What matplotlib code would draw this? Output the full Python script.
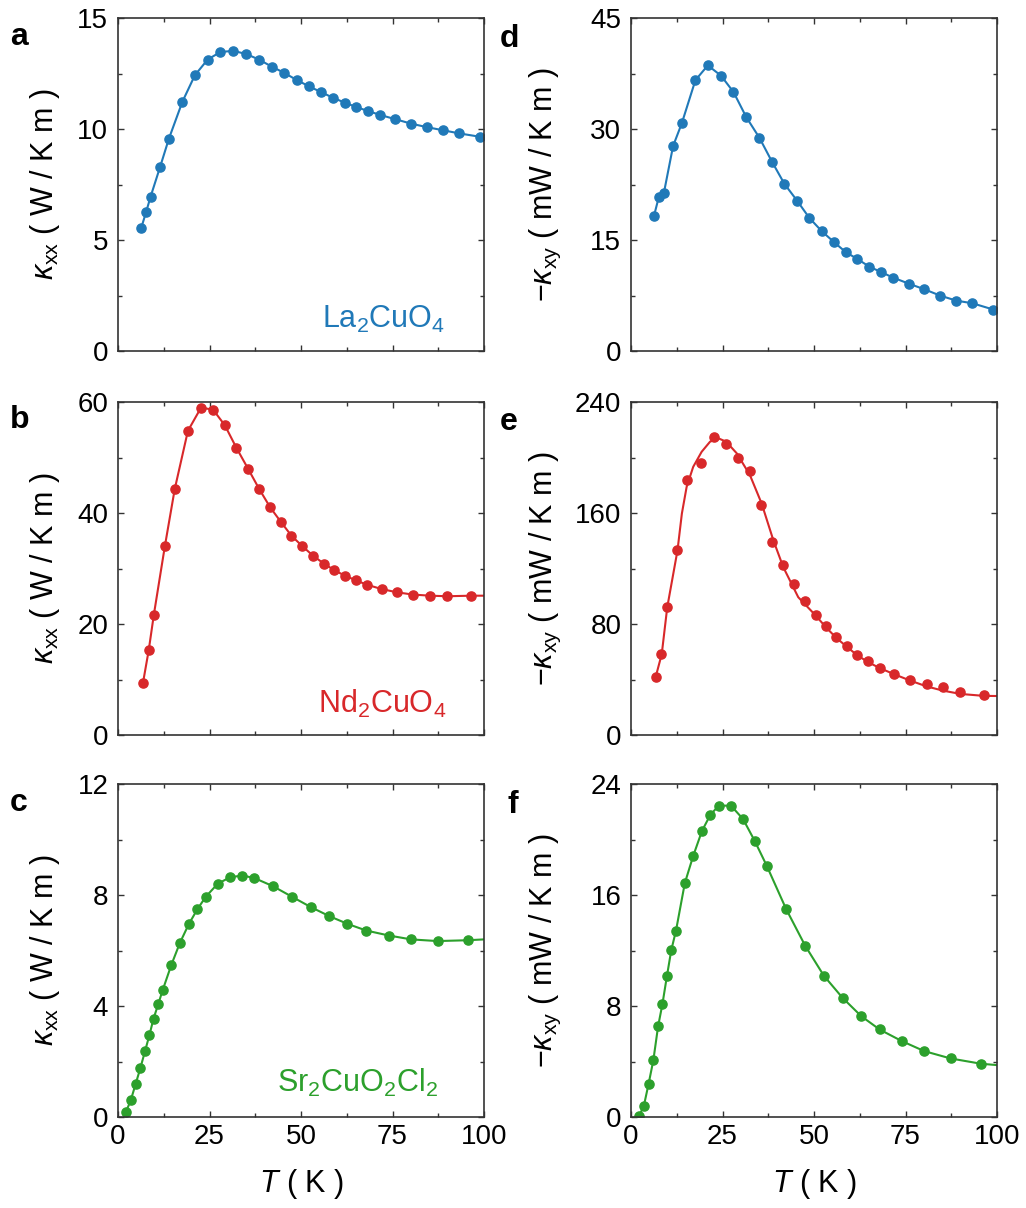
import numpy as np
import matplotlib
matplotlib.use("Agg")
import matplotlib.pyplot as plt
from matplotlib.ticker import MultipleLocator

plt.rcParams['font.family'] = ['Liberation Sans', 'DejaVu Sans']
plt.rcParams['mathtext.fontset'] = 'custom'
plt.rcParams['mathtext.rm'] = 'Liberation Sans'
plt.rcParams['mathtext.it'] = 'Liberation Sans:italic'
plt.rcParams['mathtext.bf'] = 'Liberation Sans:bold'

BLUE = '#2079b8'
RED = '#d8282a'
GREEN = '#2ca02c'

# ---- La2CuO4 ----
la_T = [6.3, 7.7, 8.9, 11.5, 13.9, 17.6, 21.0, 24.5, 28.0, 31.5, 35.0, 38.5, 42.0,
        45.4, 48.8, 52.2, 55.4, 58.7, 61.9, 65.1, 68.3, 71.7, 75.8, 80.1, 84.5,
        88.9, 93.3, 98.9]
la_kxx = [5.52, 6.27, 6.95, 8.29, 9.56, 11.23, 12.42, 13.13, 13.47, 13.52, 13.38,
          13.13, 12.81, 12.53, 12.21, 11.92, 11.67, 11.41, 11.19, 10.99, 10.81,
          10.63, 10.44, 10.24, 10.08, 9.94, 9.80, 9.65]
la_kxy_T = [6.3, 7.6, 9.0, 11.5, 13.9, 17.6, 21.0, 24.6, 28.0, 31.5, 35.1, 38.5,
            41.9, 45.4, 48.7, 52.1, 55.5, 58.7, 61.8, 65.1, 68.4, 71.7, 75.9,
            80.1, 84.4, 88.9, 93.3, 99.0]
la_kxy = [18.3, 20.8, 21.4, 27.7, 30.8, 36.6, 38.6, 37.2, 35.0, 31.6, 28.8, 25.6,
          22.6, 20.3, 18.0, 16.2, 14.7, 13.35, 12.45, 11.4, 10.65, 9.9, 9.1,
          8.35, 7.5, 6.8, 6.45, 5.6]

# ---- Nd2CuO4 ----
nd_T = [6.8, 8.4, 9.8, 12.8, 15.5, 19.1, 22.7, 26.0, 29.2, 32.3, 35.6, 38.6, 41.6,
        44.5, 47.4, 50.4, 53.3, 56.2, 59.1, 62.0, 64.9, 67.9, 72.0, 76.3, 80.6,
        85.3, 90.0, 96.4]
nd_kxx = [9.3, 15.3, 21.7, 34.0, 44.3, 54.8, 59.0, 58.6, 55.8, 51.8, 47.9, 44.3,
          41.0, 38.4, 35.9, 34.0, 32.3, 30.9, 29.7, 28.7, 27.9, 27.1, 26.3, 25.7,
          25.3, 25.1, 25.0, 25.1]
nd_kxx_end = 25.1
nd_kxy_T = [6.8, 8.3, 9.8, 12.7, 15.4, 19.0, 22.7, 26.0, 29.2, 32.5, 35.6, 38.6,
            41.5, 44.5, 47.5, 50.5, 53.3, 56.1, 59.0, 61.8, 64.8, 67.9, 71.9,
            76.3, 80.8, 85.2, 90.0, 96.4]
nd_kxy = [41.6, 58.4, 92.1, 133.0, 183.5, 196.0, 214.5, 209.5, 199.6, 190.2, 165.7,
          139.0, 122.2, 108.7, 96.7, 86.8, 78.2, 70.9, 64.2, 58.0, 53.1, 48.6,
          44.0, 39.7, 36.6, 34.6, 31.3, 28.9]
# smooth fit through the Nd2CuO4 Hall data
nd_fit_T = [6.7, 8.4, 9.9, 12.7, 13.9, 15.2, 17.0, 19.3, 21.6, 23.9, 26.0, 28.9,
            32.5, 35.7, 38.9, 41.6, 45.7, 50.5, 53.3, 56.1, 59.0, 61.8, 64.8,
            67.9, 71.9, 76.3, 80.8, 85.2, 90.0, 96.4, 100.0]
nd_fit = [41.4, 58.3, 92.0, 133.0, 159.6, 178.8, 193.3, 204.1, 211.4, 213.8, 211.4,
          203.0, 187.3, 166.8, 140.3, 121.0, 99.3, 86.0, 77.5, 70.0, 63.5, 57.5,
          52.5, 48.3, 43.8, 39.2, 35.0, 32.0, 29.6, 28.2, 28.1]

# ---- Sr2CuO2Cl2 ----
sr_T = [2.2, 3.5, 4.8, 6.1, 7.4, 8.6, 9.7, 11.0, 12.2, 14.6, 16.9, 19.3, 21.7,
        24.0, 27.2, 30.6, 33.9, 37.1, 42.3, 47.5, 52.6, 57.7, 62.7, 67.8, 74.0,
        80.1, 87.3, 95.6]
sr_kxx = [0.19, 0.61, 1.18, 1.76, 2.38, 2.96, 3.54, 4.07, 4.57, 5.49, 6.27, 6.94,
          7.49, 7.94, 8.40, 8.64, 8.70, 8.62, 8.32, 7.94, 7.57, 7.24, 6.96, 6.72,
          6.54, 6.40, 6.34, 6.37]
sr_kxx_end = 6.40
sr_kxy_T = [2.2, 3.5, 4.8, 6.1, 7.4, 8.6, 9.8, 11.0, 12.3, 14.7, 17.0, 19.4, 21.7,
            24.0, 27.3, 30.6, 33.8, 37.1, 42.4, 47.6, 52.7, 57.8, 62.9, 67.9,
            74.0, 80.1, 87.3, 95.6]
sr_kxy = [0.07, 0.79, 2.38, 4.08, 6.53, 8.16, 10.13, 12.02, 13.44, 16.85, 18.82,
          20.62, 21.79, 22.44, 22.44, 21.48, 19.90, 18.10, 14.98, 12.34, 10.18,
          8.59, 7.27, 6.31, 5.47, 4.75, 4.22, 3.84]
sr_kxy_end = 3.74

T_TICKS = [0, 25, 50, 75, 100]

W, H = 1026, 1208
fig = plt.figure(figsize=(W / 100, H / 100), dpi=100)

left_x = [118, 631]
rows_top = [18, 402, 784]
ax_w, ax_h = 366, 333

TICK_FS = 20
LABEL_FS = 22


def make_ax(col, row):
    x0 = left_x[col] / W
    y0 = 1 - (rows_top[row] + ax_h) / H
    return fig.add_axes([x0, y0, ax_w / W, ax_h / H])


def style(ax, ymax, ystep, show_x):
    ax.set_xlim(0, 100)
    ax.set_ylim(0, ymax)
    ax.xaxis.set_major_locator(MultipleLocator(25))
    ax.xaxis.set_minor_locator(MultipleLocator(12.5))
    ax.yaxis.set_major_locator(MultipleLocator(ystep))
    ax.yaxis.set_minor_locator(MultipleLocator(ystep / 2))
    ax.tick_params(which='both', direction='in', top=True, right=True,
                   color='#333333', width=1.0)
    ax.tick_params(which='major', length=4.5, labelsize=TICK_FS)
    ax.tick_params(which='minor', length=3.0)
    ax.tick_params(axis='y', pad=7)
    ax.tick_params(axis='x', pad=5)
    for s in ax.spines.values():
        s.set_color('#333333')
        s.set_linewidth(1.2)
    if show_x:
        ax.set_xticks(T_TICKS)
        ax.set_xlabel(r'$T$ ( K )', fontsize=LABEL_FS)
        ax.xaxis.set_label_coords(0.5, -0.15)
    else:
        ax.tick_params(axis='x', labelbottom=False)


MS = 6.6
LW = 1.5

kxx_label = r'$\kappa_{\mathrm{xx}}$ ( W / K m )'
kxy_label = r'$-\kappa_{\mathrm{xy}}$ ( mW / K m )'
KXX_LX = -0.152
KXY_LX = -0.187

# a
ax = make_ax(0, 0)
ax.plot(la_T, la_kxx, '-', color=BLUE, lw=LW)
ax.plot(la_T, la_kxx, 'o', color=BLUE, ms=MS)
style(ax, 15, 5, False)
ax.set_ylabel(kxx_label, fontsize=LABEL_FS)
ax.yaxis.set_label_coords(KXX_LX, 0.5)
ax.text(0.893, 0.07, r'La$_2$CuO$_4$', transform=ax.transAxes, color=BLUE,
        fontsize=LABEL_FS, ha='right', va='baseline')

# d
ax = make_ax(1, 0)
ax.plot(la_kxy_T, la_kxy, '-', color=BLUE, lw=LW)
ax.plot(la_kxy_T, la_kxy, 'o', color=BLUE, ms=MS)
style(ax, 45, 15, False)
ax.set_ylabel(kxy_label, fontsize=LABEL_FS)
ax.yaxis.set_label_coords(KXY_LX, 0.5)

# b
ax = make_ax(0, 1)
ax.plot(nd_T + [100], nd_kxx + [nd_kxx_end], '-', color=RED, lw=LW)
ax.plot(nd_T, nd_kxx, 'o', color=RED, ms=MS)
style(ax, 60, 20, False)
ax.set_ylabel(kxx_label, fontsize=LABEL_FS)
ax.yaxis.set_label_coords(KXX_LX, 0.5)
ax.text(0.898, 0.066, r'Nd$_2$CuO$_4$', transform=ax.transAxes, color=RED,
        fontsize=LABEL_FS, ha='right', va='baseline')

# e
ax = make_ax(1, 1)
ax.plot(nd_fit_T, nd_fit, '-', color=RED, lw=LW)
ax.plot(nd_kxy_T, nd_kxy, 'o', color=RED, ms=MS)
style(ax, 240, 80, False)
ax.set_ylabel(kxy_label, fontsize=LABEL_FS)
ax.yaxis.set_label_coords(KXY_LX, 0.5)

# c
ax = make_ax(0, 2)
ax.plot(sr_T + [100], sr_kxx + [sr_kxx_end], '-', color=GREEN, lw=LW)
ax.plot(sr_T, sr_kxx, 'o', color=GREEN, ms=MS)
style(ax, 12, 4, True)
ax.set_ylabel(kxx_label, fontsize=LABEL_FS)
ax.yaxis.set_label_coords(KXX_LX, 0.5)
ax.text(0.875, 0.075, r'Sr$_2$CuO$_2$Cl$_2$', transform=ax.transAxes,
        color=GREEN, fontsize=LABEL_FS, ha='right', va='baseline')

# f
ax = make_ax(1, 2)
ax.plot(sr_kxy_T + [100], sr_kxy + [sr_kxy_end], '-', color=GREEN, lw=LW)
ax.plot(sr_kxy_T, sr_kxy, 'o', color=GREEN, ms=MS)
style(ax, 24, 8, True)
ax.set_ylabel(kxy_label, fontsize=LABEL_FS)
ax.yaxis.set_label_coords(KXY_LX, 0.5)

# panel letters
letters = [('a', 10, 45), ('d', 500, 47), ('b', 10, 428), ('e', 500, 430),
           ('c', 10, 811), ('f', 507, 813)]
for s, px, py in letters:
    fig.text(px / W, 1 - py / H, s, fontsize=23, fontweight='bold',
             ha='left', va='baseline')

fig.savefig('out.png', dpi=100)
